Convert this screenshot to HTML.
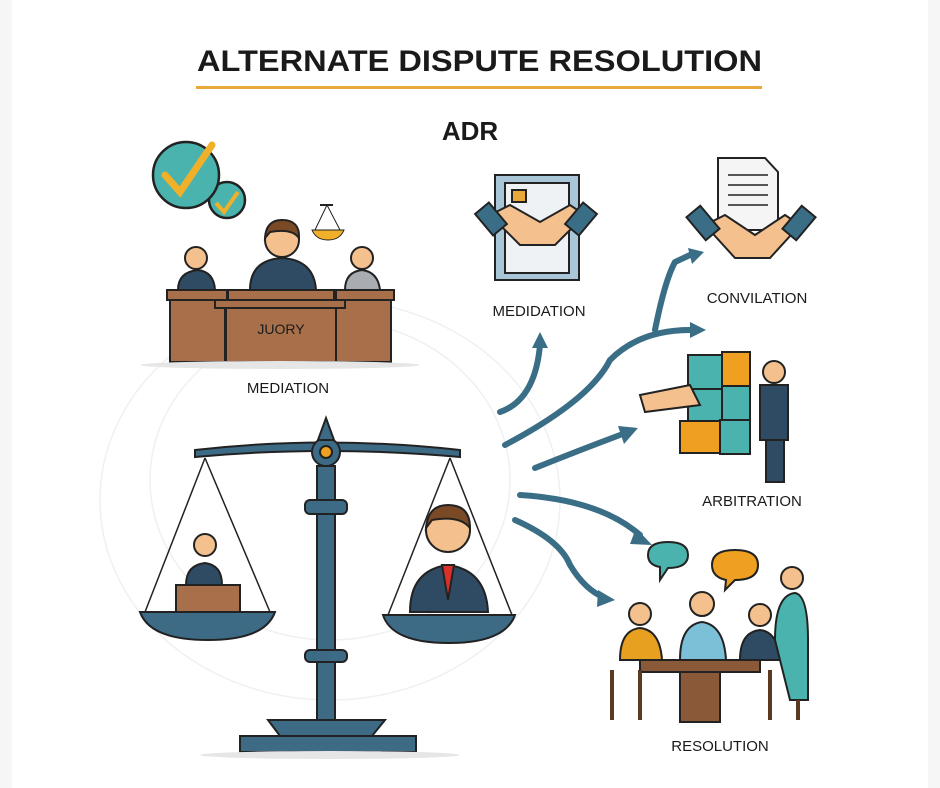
<!DOCTYPE html>
<html><head><meta charset="utf-8"><style>
html,body{margin:0;padding:0;background:#fff;}
svg{display:block;}
text{font-family:"Liberation Sans",sans-serif;fill:#1a1a1a;}
</style></head><body>
<svg width="940" height="788" viewBox="0 0 940 788">
<rect width="940" height="788" fill="#fff"/>
<rect x="0" y="0" width="12" height="788" fill="#f6f6f6"/>
<rect x="928" y="0" width="12" height="788" fill="#f6f6f6"/>
<g fill="none" stroke="#eef0f2" stroke-width="1.5">
<ellipse cx="330" cy="500" rx="230" ry="200"/><ellipse cx="330" cy="480" rx="180" ry="160"/>
</g>
<text x="197" y="71" font-size="30" font-weight="bold" textLength="565" lengthAdjust="spacingAndGlyphs">ALTERNATE DISPUTE RESOLUTION</text>
<rect x="196" y="86" width="566" height="3" fill="#e8a93a"/>
<text x="470" y="140" font-size="26" font-weight="bold" text-anchor="middle">ADR</text>

<g stroke="#222" stroke-width="2.5">
<circle cx="227" cy="200" r="18" fill="#4bb3ad"/>
<circle cx="186" cy="175" r="33" fill="#4bb3ad"/>
</g>
<path d="M165 175 L180 192 L212 145" stroke="#f0b02a" stroke-width="7" fill="none" stroke-linecap="round"/>
<path d="M216 203 L224 212 L238 192" stroke="#f0b02a" stroke-width="4" fill="none"/>
<path d="M320 205 L333 205" stroke="#222" stroke-width="2"/><path d="M327 205 L315 230 M327 205 L340 230" stroke="#222" fill="none"/>
<path d="M312 230 L344 230 Q340 240 328 240 Q316 240 312 230Z" fill="#f0b02a" stroke="#222"/>
<g stroke="#222" stroke-width="2">
<path d="M250 290 Q250 260 282 258 Q314 260 316 290Z" fill="#2f4a63"/>
<circle cx="282" cy="240" r="17" fill="#f3c08e"/>
<path d="M265 238 Q266 220 282 220 Q300 220 299 238 Q292 228 270 232Z" fill="#7a4a26"/>
<path d="M178 290 Q178 272 198 270 Q214 272 215 290Z" fill="#2f4a63"/>
<circle cx="196" cy="258" r="11" fill="#f3c08e"/>
<path d="M345 290 Q345 272 362 270 Q378 272 380 290Z" fill="#a9adb2"/>
<circle cx="362" cy="258" r="11" fill="#f3c08e"/>
</g>
<g stroke="#222" stroke-width="2" fill="#a8704a">
<rect x="167" y="290" width="60" height="10"/><rect x="336" y="290" width="58" height="10"/>
<rect x="228" y="290" width="106" height="10"/>
<rect x="170" y="300" width="55" height="62"/><rect x="336" y="300" width="55" height="62"/>
<rect x="215" y="300" width="130" height="8"/>
<rect x="226" y="308" width="110" height="54"/>
</g>
<text x="281" y="334" font-size="14" text-anchor="middle">JUORY</text>
<ellipse cx="280" cy="365" rx="140" ry="4" fill="#e6e6e6"/>
<text x="288" y="393" font-size="15" text-anchor="middle">MEDIATION</text>

<g stroke="#222" stroke-width="2">
<path d="M195 450 Q325 435 460 450 L460 457 Q325 445 195 457Z" fill="#3d6a85"/>
<circle cx="326" cy="452" r="14" fill="#3d6a85"/><circle cx="326" cy="452" r="6" fill="#f0a020"/>
<path d="M318 440 L326 418 L334 440Z" fill="#3d6a85"/>
<rect x="317" y="466" width="18" height="270" fill="#3d6a85"/>
<rect x="305" y="500" width="42" height="14" rx="5" fill="#3d6a85"/>
<rect x="305" y="650" width="42" height="12" rx="5" fill="#3d6a85"/>
<path d="M280 736 L372 736 L385 720 L268 720Z" fill="#3d6a85"/>
<rect x="240" y="736" width="176" height="16" fill="#3d6a85"/>
</g>
<g stroke="#222" stroke-width="1.5" fill="none">
<path d="M205 458 L145 612 M205 458 L270 612"/>
<path d="M450 458 L388 615 M450 458 L512 615"/>
</g>
<g stroke="#222" stroke-width="2">
<rect x="176" y="585" width="64" height="28" fill="#a8704a"/>
<path d="M186 585 Q186 565 205 563 Q222 565 222 585Z" fill="#2f4a63"/>
<circle cx="205" cy="545" r="11" fill="#f3c08e"/>
<path d="M410 612 Q410 570 448 565 Q486 570 488 612Z" fill="#2f4a63"/>
<path d="M442 565 L448 600 L454 565Z" fill="#d8312a"/>
<circle cx="448" cy="530" r="22" fill="#f3c08e"/>
<path d="M426 528 Q428 505 448 505 Q470 505 470 528 Q460 515 432 520Z" fill="#7a4a26"/>
<path d="M140 612 L275 612 Q265 640 208 640 Q150 640 140 612Z" fill="#3d6a85"/>
<path d="M383 615 L515 615 Q505 643 449 643 Q392 643 383 615Z" fill="#3d6a85"/>
</g>
<ellipse cx="330" cy="755" rx="130" ry="4" fill="#e6e6e6"/>

<g fill="none" stroke="#3a6d86" stroke-width="6" stroke-linecap="round">
<path d="M500 412 Q535 400 540 345"/>
<path d="M505 445 Q590 400 610 360 Q640 330 690 330"/>
<path d="M655 330 Q665 280 675 262 L690 255"/>
<path d="M535 468 Q580 450 620 435"/>
<path d="M520 495 Q600 500 640 535"/>
<path d="M515 520 Q560 540 570 565 Q585 590 605 598"/>
</g>
<g fill="#3a6d86">
<path d="M540 332 L532 348 L548 348Z"/><path d="M706 330 L690 322 L690 338Z"/>
<path d="M704 252 L688 248 L692 264Z"/><path d="M638 428 L618 426 L624 444Z"/>
<path d="M652 545 L636 528 L630 544Z"/><path d="M615 600 L598 590 L597 607Z"/>
</g>

<g stroke="#222" stroke-width="2">
<rect x="495" y="175" width="84" height="105" fill="#a9c5d8"/>
<rect x="505" y="183" width="64" height="90" fill="#eef2f5"/>
<rect x="512" y="190" width="14" height="12" fill="#e8a93a"/>
<path d="M490 215 L520 245 L555 245 L585 215 L570 205 L540 222 L510 205Z" fill="#f3c08e"/>
<rect x="482" y="205" width="18" height="28" fill="#3a6d86" transform="rotate(-40 491 219)"/>
<rect x="572" y="205" width="18" height="28" fill="#3a6d86" transform="rotate(40 581 219)"/>
</g>
<text x="539" y="316" font-size="15" text-anchor="middle">MEDIDATION</text>
<g stroke="#222" stroke-width="2">
<path d="M718 158 L765 158 L778 172 L778 230 L718 230Z" fill="#f5f5f5"/>
<path d="M728 175 H768 M728 185 H768 M728 195 H768 M728 205 H768" stroke-width="1.5"/>
<path d="M705 225 L735 258 L770 258 L800 225 L785 215 L755 235 L725 215Z" fill="#f3c08e"/>
<rect x="694" y="208" width="18" height="30" fill="#3a6d86" transform="rotate(-40 703 223)"/>
<rect x="790" y="208" width="18" height="30" fill="#3a6d86" transform="rotate(40 799 223)"/>
</g>
<text x="757" y="303" font-size="15" text-anchor="middle">CONVILATION</text>
<g stroke="#222" stroke-width="2">
<rect x="688" y="355" width="34" height="34" fill="#4bb3ad"/><rect x="722" y="352" width="28" height="34" fill="#f0a020"/>
<rect x="688" y="389" width="34" height="32" fill="#4bb3ad"/><rect x="722" y="386" width="28" height="34" fill="#4bb3ad"/>
<rect x="680" y="421" width="40" height="32" fill="#f0a020"/><rect x="720" y="420" width="30" height="34" fill="#4bb3ad"/>
<path d="M640 395 L690 385 L700 405 L645 412Z" fill="#f3c08e"/>
<rect x="760" y="385" width="28" height="55" fill="#2f4a63"/>
<rect x="766" y="440" width="18" height="42" fill="#2f4a63"/>
<circle cx="774" cy="372" r="11" fill="#f3c08e"/>
</g>
<text x="752" y="506" font-size="15" text-anchor="middle">ARBITRATION</text>
<g stroke="#222" stroke-width="2">
<path d="M648 555 Q648 542 668 542 Q688 542 688 555 Q688 568 668 568 L660 580 L660 567 Q648 565 648 555Z" fill="#4bb3ad"/>
<path d="M712 565 Q712 550 735 550 Q758 550 758 565 Q758 580 735 580 L725 590 L726 580 Q712 577 712 565Z" fill="#f0a020"/>
<rect x="640" y="660" width="120" height="12" fill="#8a5a38"/>
<rect x="680" y="672" width="40" height="50" fill="#8a5a38"/>
<path d="M620 660 Q620 630 640 628 Q660 630 662 660Z" fill="#e8a020"/>
<circle cx="640" cy="614" r="11" fill="#f3c08e"/>
<path d="M680 660 Q680 625 702 622 Q724 625 726 660Z" fill="#7cc0d8"/>
<circle cx="702" cy="604" r="12" fill="#f3c08e"/>
<path d="M740 660 Q740 632 760 630 Q778 632 780 660Z" fill="#2f4a63"/>
<circle cx="760" cy="615" r="11" fill="#f3c08e"/>
<path d="M775 640 Q775 595 795 593 Q808 595 808 640 L808 700 L790 700Z" fill="#4bb3ad"/>
<circle cx="792" cy="578" r="11" fill="#f3c08e"/>
<path d="M612 670 L612 720 M640 670 L640 720 M770 670 L770 720 M798 700 L798 720" stroke="#5a3a22" stroke-width="4"/>
</g>
<text x="720" y="751" font-size="15" text-anchor="middle">RESOLUTION</text>
</svg>
</body></html>
